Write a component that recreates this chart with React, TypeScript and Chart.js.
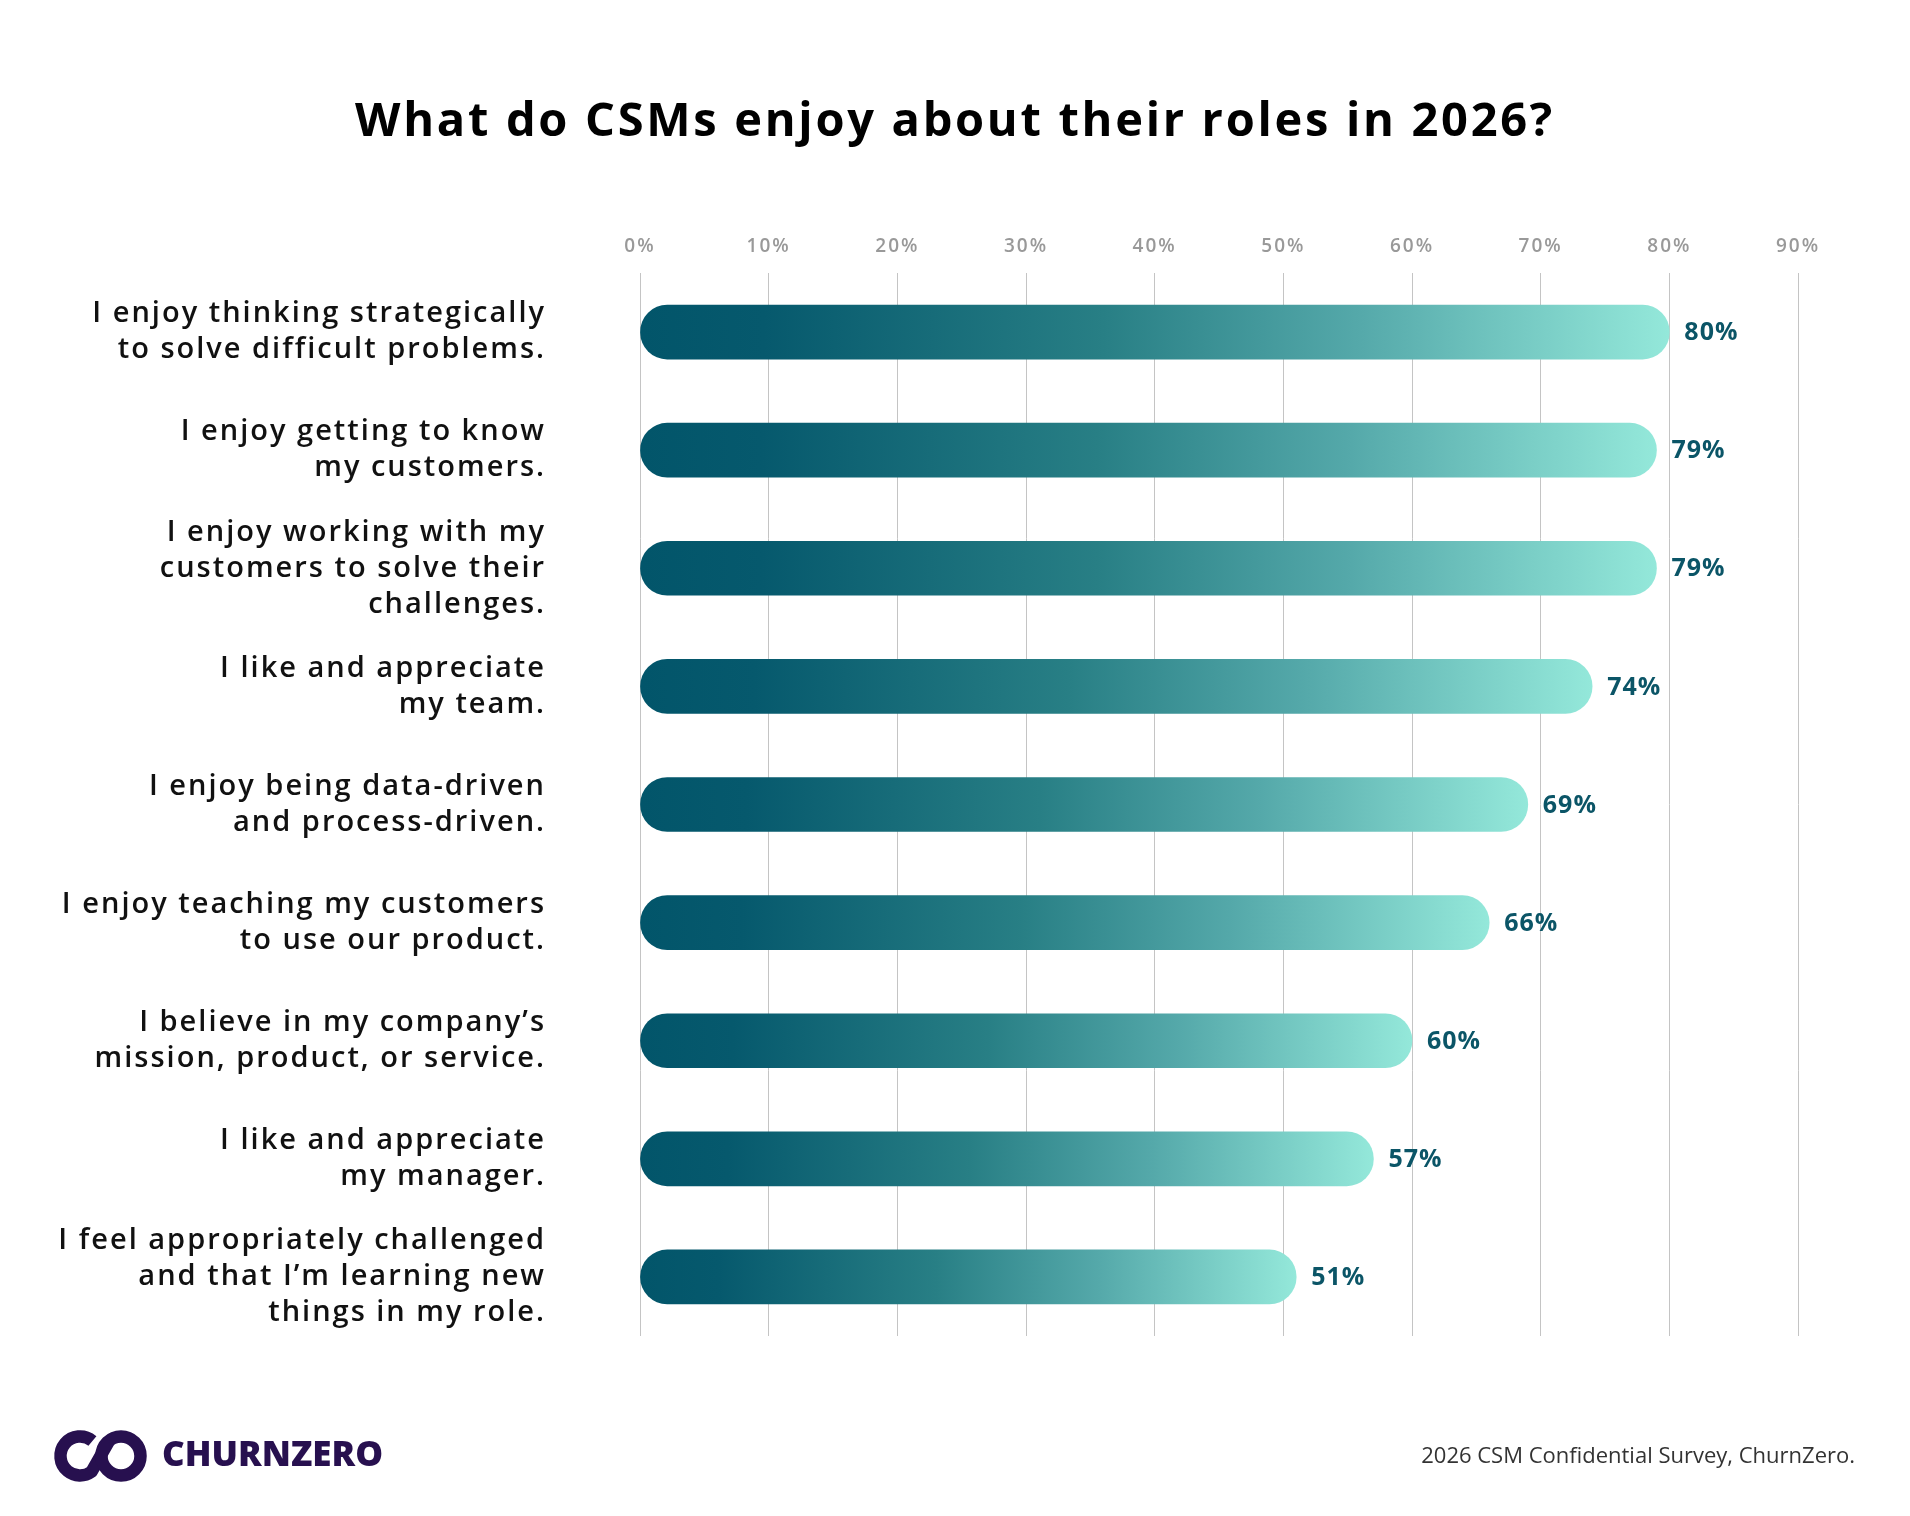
import { useEffect, useRef } from "react";
import { Chart, registerables } from "chart.js";

Chart.register(...registerables);

// Survey statements (multi-line labels) and the share of CSMs agreeing with each
const categories: string[][] = [
  ["I enjoy thinking strategically", "to solve difficult problems."],
  ["I enjoy getting to know", "my customers."],
  ["I enjoy working with my", "customers to solve their", "challenges."],
  ["I like and appreciate", "my team."],
  ["I enjoy being data-driven", "and process-driven."],
  ["I enjoy teaching my customers", "to use our product."],
  ["I believe in my company\u2019s", "mission, product, or service."],
  ["I like and appreciate", "my manager."],
  ["I feel appropriately challenged", "and that I\u2019m learning new", "things in my role."],
];
const values: number[] = [80, 79, 79, 74, 69, 66, 60, 57, 51];

// Percentage axis
const axisMin = 0;
const axisMax = 90;
const axisStep = 10;

const titleText = "What do CSMs enjoy about their roles in 2026?";
const sourceText = "2026 CSM Confidential Survey, ChurnZero.";
const brandText = "CHURNZERO";

const FONT = '"Open Sans", "Noto Sans", sans-serif';
const BRAND = "#27104f";
const VALUE_COLOR = "#0b5567";

const gradientStops: [number, string][] = [
  [0, "#02556a"],
  [0.12, "#06596d"],
  [0.45, "#287f85"],
  [0.7, "#55a9aa"],
  [1, "#94e8da"],
];

function barFill(ctx: any) {
  const chart = ctx.chart;
  const xScale = chart.scales?.x;
  if (!chart.chartArea || !xScale || ctx.type !== "data") return gradientStops[0][1];
  const x0 = xScale.getPixelForValue(0);
  const x1 = xScale.getPixelForValue(ctx.raw);
  const g = chart.ctx.createLinearGradient(x0, 0, x1, 0);
  gradientStops.forEach(([o, c]) => g.addColorStop(o, c));
  return g;
}

// Slightly open tracking for axis and category text
const tracking = {
  id: "tracking",
  beforeDraw(chart: any) {
    (chart.ctx as any).letterSpacing = "2px";
  },
  afterDraw(chart: any) {
    (chart.ctx as any).letterSpacing = "0px";
  },
};

// Percentage printed just past the end of each bar
const valueLabels = {
  id: "valueLabels",
  afterDatasetsDraw(chart: any) {
    const { ctx } = chart;
    const meta = chart.getDatasetMeta(0);
    ctx.save();
    ctx.letterSpacing = "1px";
    ctx.font = `700 25px ${FONT}`;
    ctx.fillStyle = VALUE_COLOR;
    ctx.textAlign = "left";
    ctx.textBaseline = "middle";
    meta.data.forEach((bar: any, i: number) => {
      ctx.fillText(`${values[i]}%`, bar.x + 15, bar.y + 1);
    });
    ctx.restore();
  },
};

// Title, brand mark and source line
const decorations = {
  id: "decorations",
  afterDraw(chart: any) {
    const { ctx, width } = chart;
    ctx.save();

    ctx.fillStyle = "#000";
    ctx.letterSpacing = "2.7px";
    ctx.font = `700 47px ${FONT}`;
    ctx.textAlign = "center";
    ctx.textBaseline = "alphabetic";
    ctx.fillText(titleText, width / 2, 136);

    // brand mark: linked C and O
    ctx.letterSpacing = "0px";
    ctx.strokeStyle = BRAND;
    ctx.lineWidth = 12.5;
    ctx.lineCap = "butt";
    ctx.lineJoin = "round";
    const cy = 1456;
    const lx = 80;
    const rx = 121;
    const r = 19.5;
    ctx.beginPath();
    ctx.arc(lx, cy, r, -Math.PI * 0.28, Math.PI * 0.3, true);
    ctx.lineTo(rx + r * Math.cos(Math.PI * 1.3), cy + r * Math.sin(Math.PI * 1.3));
    ctx.stroke();
    ctx.beginPath();
    ctx.arc(rx, cy, r, 0, Math.PI * 2);
    ctx.stroke();

    ctx.fillStyle = BRAND;
    ctx.font = `800 35px ${FONT}`;
    ctx.textAlign = "left";
    ctx.fillText(brandText, 162, 1466);

    ctx.fillStyle = "#333";
    ctx.font = `400 22px ${FONT}`;
    ctx.textAlign = "right";
    ctx.fillText(sourceText, 1855, 1463);

    ctx.restore();
  },
};

export default function App() {
  const canvasRef = useRef<HTMLCanvasElement | null>(null);

  useEffect(() => {
    const canvas = canvasRef.current;
    if (!canvas) return;
    const chart = new Chart(canvas, {
      type: "bar",
      data: {
        labels: categories,
        datasets: [
          {
            data: values,
            backgroundColor: barFill,
            barThickness: 54,
            borderRadius: 27,
            borderSkipped: false,
          },
        ],
      },
      options: {
        indexAxis: "y",
        responsive: false,
        animation: false,
        devicePixelRatio: 1,
        layout: { padding: { top: 200, right: 112, bottom: 180, left: 0 } },
        plugins: {
          legend: { display: false },
          tooltip: { enabled: false },
          title: { display: false },
        },
        scales: {
          x: {
            position: "top",
            min: axisMin,
            max: axisMax,
            grid: { color: "#c4c4c4", lineWidth: 1, drawTicks: false },
            border: { display: false },
            ticks: {
              stepSize: axisStep,
              padding: 15,
              color: "#999999",
              font: { family: FONT, size: 19, weight: 600 },
              callback: (v: any) => `${v}%`,
            },
            afterFit: (scale: any) => {
              scale.height = 73;
            },
          },
          y: {
            grid: { display: false, drawTicks: false },
            border: { display: false },
            ticks: {
              padding: 94,
              color: "#111",
              font: { family: FONT, size: 29, weight: 600, lineHeight: 36 / 29 },
            },
            afterFit: (scale: any) => {
              scale.width = 640;
            },
          },
        },
      },
      plugins: [tracking, valueLabels, decorations],
    });
    return () => chart.destroy();
  }, []);

  return (
    <canvas
      ref={canvasRef}
      width={1910}
      height={1516}
      style={{ position: "absolute", left: 0, top: 0, display: "block", background: "#fff" }}
    />
  );
}
